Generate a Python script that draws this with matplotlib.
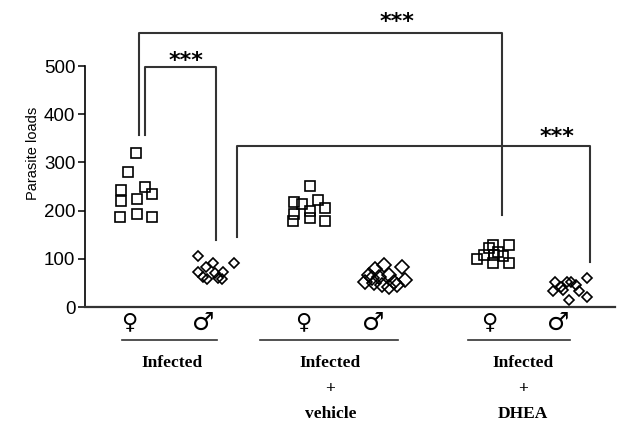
import numpy as np
import matplotlib
matplotlib.use("Agg")
import matplotlib.pyplot as plt

# parasite loads, one list per group
f_inf = [319, 281, 242, 248, 234, 219, 225, 187, 194, 187]
m_inf = [106, 91, 91, 83, 73, 73, 71, 62, 60, 58, 58]
f_veh = [251, 217, 213, 222, 206, 200, 192, 185, 179, 179]
m_veh = [84, 87, 78, 66, 52, 63, 66, 52, 56, 46, 49, 42, 46, 60]
f_dhea = [129, 129, 122, 115, 99, 106, 108, 91, 91, 108]
m_dhea = [60, 52, 52, 52, 41, 46, 33, 33, 35, 21, 15]

groups = ["Infected", "Infected\n+\nvehicle", "Infected\n+\nDHEA"]
yticks = [0, 100, 200, 300, 400, 500]

# horizontal scatter of the points (in px), as seen in the figure
jit_f_inf = [0, -8, -15, 9, 16, -15, 1, -16, 1, 16]
jit_m_inf = [-17, -2, 19, -9, -17, 8, 0, -12, 3, 7, -8]
jit_f_veh = [0, -16, -8, 8, 15, 0, -16, 0, -17, 15]
jit_m_veh = [17, -1, -10, -16, -20, -6, 4, 9, 20, -3, -11, 4, 12, -13]
jit_f_dhea = [14, -2, -6, 3, -18, 8, -1, -2, 14, -11]
jit_m_dhea = [16, -16, 0, -4, -10, 5, -18, 8, -8, 16, -2]

pos = [1, 2, 3.2, 4.15, 5.55, 6.5]
px = 79.0  # pixels per x unit

fig = plt.figure(figsize=(6.29, 4.23), dpi=100)
ax = fig.add_axes([85/629, (423-307)/423, (615-85)/629, 307/423])

series = [(f_inf, jit_f_inf, 's', 6.6),
          (m_inf, jit_m_inf, 'D', 5.6),
          (f_veh, jit_f_veh, 's', 6.6),
          (m_veh, jit_m_veh, 'D', 7.4),
          (f_dhea, jit_f_dhea, 's', 6.6),
          (m_dhea, jit_m_dhea, 'D', 5.6)]
for p, (vals, jit, mk, ms) in zip(pos, series):
    xs = p + np.array(jit) / px
    ax.plot(xs, vals, mk, ms=ms, mfc='none', mec='black', mew=1.2, ls='none')

ax.set_xlim(1 - 51/px, 1 + 479/px)
ax.set_ylim(0, 637)
ax.set_yticks(yticks)
ax.set_xticks([])
ax.tick_params(axis='y', length=5, width=1.1, labelsize=13.5, pad=2)
for lab in ax.get_yticklabels():
    lab.set_family('Liberation Sans')
ax.set_ylabel("Parasite loads", fontsize=10.5, family='Liberation Sans', labelpad=3)
ax.spines['top'].set_visible(False)
ax.spines['right'].set_visible(False)
ax.spines['left'].set_bounds(0, 500)
ax.spines['left'].set_linewidth(1.2)
ax.spines['bottom'].set_linewidth(1.6)
ax.spines['bottom'].set_color('#333333')

# significance brackets
lc = '#333333'
def bracket(x1, x2, top, y1, y2, label, lx, ly):
    ax.plot([x1, x1, x2, x2], [y1, top, top, y2], color=lc, lw=1.5, clip_on=False)
    ax.text(lx, ly, label, ha='center', va='center', fontsize=16, fontweight='bold',
            family='DejaVu Sans', clip_on=False)

bracket(pos[0] + 0.11, pos[1] + 0.01, 498, 357, 139, "***", 1.63, 510)
bracket(pos[0] + 0.04, pos[4] + 0.08, 568, 357, 191, "***", 4.30, 592)
bracket(pos[1] + 0.28, pos[5] + 0.25, 334, 145, 93, "***", 6.33, 352)

# sex symbols, underlines and group labels below the axis
for i, g in enumerate(groups):
    pf, pm = pos[2*i], pos[2*i + 1]
    ax.text(pf - 0.08, -31, "\u2640", ha='center', va='center', fontsize=16,
            fontweight='bold', family='DejaVu Sans', clip_on=False)
    ax.text(pm - 0.15, -33, "\u2642", ha='center', va='center', fontsize=18,
            fontweight='bold', family='DejaVu Sans', clip_on=False)

under = [(0.823, 2.025), (2.57, 4.32), (5.2, 6.49)]
lab_x = [1.456, 3.46, 5.90]
for (a, b), lx, g in zip(under, lab_x, groups):
    ax.plot([a, b], [-68, -68], color='#333333', lw=1.2, clip_on=False)
    ax.text(lx, -100, g, ha='center', va='top', fontsize=12.5, fontweight='bold',
            family='Liberation Serif', linespacing=1.8, clip_on=False)

fig.savefig("out.png", dpi=100)
